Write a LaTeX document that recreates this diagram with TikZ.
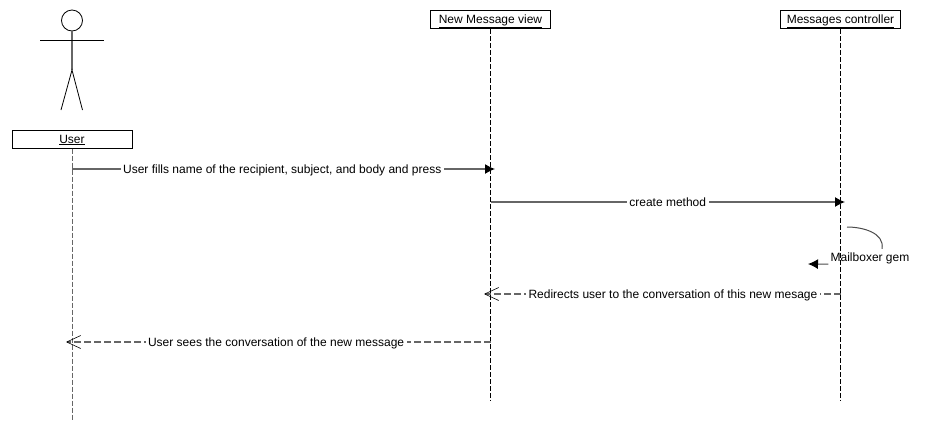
\documentclass[tikz,border=0pt]{standalone}
\usepackage{fontspec}
\setmainfont{Liberation Sans}
\usetikzlibrary{calc}
\usetikzlibrary{positioning}
\usetikzlibrary{arrows.meta}

\begin{document}
\begin{tikzpicture}[x=1pt,y=-1pt,cap=butt,font=\fontsize{12}{14}\selectfont]
  \tikzstyle{objbox}=[draw,line width=1pt,fill=white,minimum width=120pt,minimum height=18pt,inner sep=0pt,text height=9pt,text depth=1pt]
  \tikzstyle{lifeline}=[line width=1pt,dash pattern=on 5pt off 2pt]
  \tikzstyle{msg}=[line width=1.3pt,black!60,-{Latex[black,length=10pt,width=10pt]}]
  \tikzstyle{reply}=[line width=1.3pt,black!60,dash pattern=on 7pt off 3pt,-{Straight Barb[black,line width=0.6pt,length=14pt,width=13pt]}]
  \tikzstyle{msglabel}=[fill=white,text=black,inner xsep=2.5pt,inner ysep=1pt,text height=9pt,text depth=1pt]
  \useasboundingbox (0,0) rectangle (932,440);
  % objects
  \node[objbox] (user) at (72,139) {\underline{User}};
  \node[objbox] (view) at (490.5,19.5) {\underline{New Message view}};
  \node[objbox] (ctrl) at (840.5,19.5) {\underline{Messages controller}};
  % lifelines
  \coordinate (userend) at (72,420);
  \coordinate (viewend) at (490.5,401);
  \coordinate (ctrlend) at (840.5,401);
  \draw[lifeline,black!60] (user.south) -- (userend);
  \foreach \name in {view, ctrl}
    \draw[lifeline] (\name.south) -- (\name end);
  % actor
  \node[circle,draw,line width=0.8pt,minimum size=21pt,inner sep=0pt] (head) at (72,20.5) {};
  \coordinate (hip) at (72,70);
  \coordinate (armleft) at (40,40.5);
  \coordinate (armright) at (104,40.5);
  \coordinate (footleft) at (61,110);
  \coordinate (footright) at (82.5,110);
  \draw[line width=1.3pt,black!60] (head.south) -- (hip);
  \draw[line width=0.8pt] (armleft) -- (armright);
  \draw[line width=0.8pt] (footleft) -- (hip) -- (footright);
  % messages
  \coordinate (fillsfrom) at (72,169);
  \coordinate (fillsto) at (495,169);
  \draw[msg] (fillsfrom) -- (fillsto) node[msglabel,pos=0.497] (fills) {User fills name of the recipient, subject, and body and press};
  \coordinate (createfrom) at (490.5,202);
  \coordinate (createto) at (845,202);
  \draw[msg] (createfrom) -- (createto) node[msglabel,midway] (create) {create method};
  \node[inner sep=1pt,text height=9pt,text depth=1pt] (gem) at (870,257) {Mailboxer gem};
  \coordinate (gemfrom) at (847,227);
  \coordinate (gemto) at (808,264);
  \draw[line width=1pt,black!70] (gemfrom) to [out=0,in=80] ($(gem.north)+(12,-2)$);
  \draw[-{Latex[black,length=10pt,width=10pt]},line width=1pt,black!70] ($(gem.south west)+(-1,1)$) -- (gemto);
  \coordinate (redirfrom) at (840.5,294);
  \coordinate (redirto) at (484,294);
  \draw[reply] (redirfrom) -- (redirto) node[msglabel,pos=0.47] (redir) {Redirects user to the conversation of this new mesage};
  \coordinate (seesfrom) at (490.5,342);
  \coordinate (seesto) at (66,342);
  \draw[reply] (seesfrom) -- (seesto) node[msglabel,pos=0.505] (sees) {User sees the conversation of the new message};
\end{tikzpicture}
\end{document}
